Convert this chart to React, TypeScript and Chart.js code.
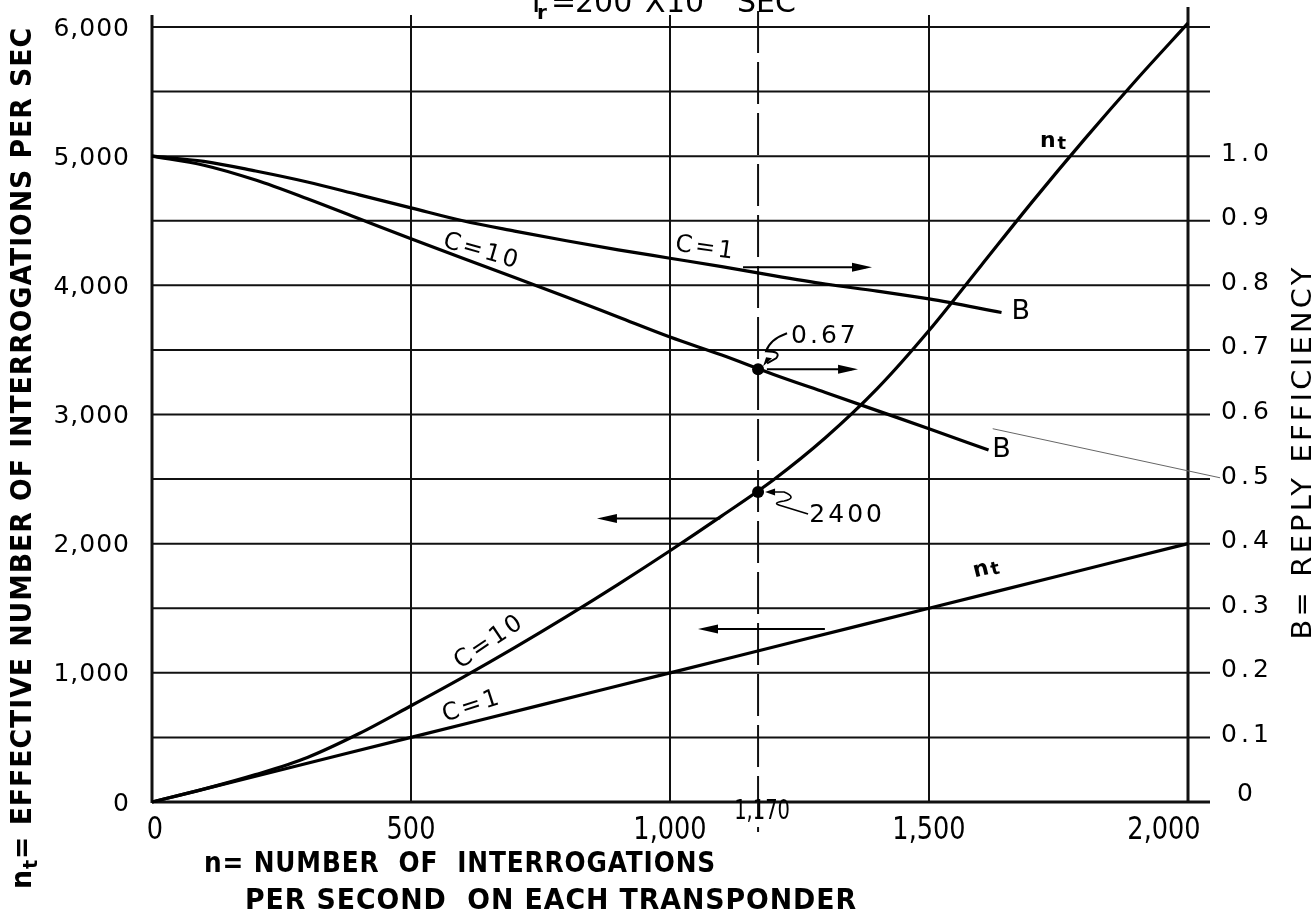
import React, { useEffect, useRef } from "react";
import { Chart, registerables } from "chart.js";
Chart.register(...registerables);

// ---------- axis ticks ----------
const xTicks = [0, 500, 1000, 1500, 2000];
const xTickLabels = ["0", "500", "1,000", "1,500", "2,000"];
const xGrid = [500, 1000, 1500, 2000];
const ntTicks = [0, 1000, 2000, 3000, 4000, 5000, 6000];
const ntTickLabels = ["0", "1,000", "2,000", "3,000", "4,000", "5,000", "6,000"];
const ntGrid = [0, 500, 1000, 1500, 2000, 2500, 3000, 3500, 4000, 4500, 5000, 5500, 6000];
const bTicks = [0, 0.1, 0.2, 0.3, 0.4, 0.5, 0.6, 0.7, 0.8, 0.9, 1.0];
const bTickLabels = ["0", "0.1", "0.2", "0.3", "0.4", "0.5", "0.6", "0.7", "0.8", "0.9", "1.0"];
const markN = 1170;
const markLabel = "1,170";

// ---------- series ----------
// n_t for C = 1
const ntC1N = [0, 250, 500, 750, 1000, 1250, 1500, 1750, 2000];
const ntC1 = [0, 250, 500, 750, 1000, 1250, 1500, 1750, 2000];
// n_t for C = 10
const ntC10N = [0, 100, 200, 300, 400, 500, 600, 700, 800, 900, 1000, 1100, 1200, 1300, 1400, 1500, 1600, 1700, 1800, 1900, 2000];
const ntC10 = [0, 100, 212, 345, 530, 745, 965, 1195, 1435, 1685, 1945, 2215, 2495, 2820, 3200, 3650, 4150, 4650, 5130, 5590, 6030];
// B for C = 1
const bC1N = [0, 100, 200, 300, 400, 500, 600, 700, 800, 900, 1000, 1100, 1200, 1300, 1400, 1500, 1640];
const bC1 = [1.0, 0.992, 0.977, 0.96, 0.94, 0.92, 0.9, 0.884, 0.869, 0.855, 0.842, 0.829, 0.815, 0.802, 0.791, 0.779, 0.758];
// B for C = 10
const bC10N = [0, 100, 200, 300, 400, 500, 600, 700, 800, 900, 1000, 1100, 1200, 1300, 1400, 1500, 1615];
const bC10 = [1.0, 0.986, 0.963, 0.934, 0.903, 0.872, 0.842, 0.812, 0.782, 0.751, 0.72, 0.692, 0.662, 0.634, 0.606, 0.578, 0.545];

// marked points
const markB = 0.67;
const markNt = 2400;

// arrows: [from n, to n, level, axis]
const arrowFrom = [1141, 1187, 1097, 1299];
const arrowTo = [1390, 1363, 859, 1054];
const arrowLevel = [0.828, 0.67, 2195, 1340];
const arrowAxis = ["y1", "y1", "y", "y"];

// faint stray line (B units)
const strayN = [1623, 2062];
const strayB = [0.578, 0.502];

// curve labels
const labelText = ["C=10", "C=1", "B", "B", "C=10", "C=1", "0.67", "2400"];
const labelN = [637, 1069, 1680, 1643, 652, 618, 1299, 1342];
const labelV = [4260, 4284, 3795, 2727, 1240, 740, 3605, 2219];
const labelRot = [16, 8, 0, 0, -34, -18, 0, 0];
const labelSize = [24, 24, 27, 27, 24, 24, 25, 25];
const ntLabelN = [1737, 1608];
const ntLabelV = [5116, 1803];
const ntLabelRot = [0, -14];

const SANS = '"DejaVu Sans", "Noto Sans", sans-serif';

type TOpts = { size: number; weight?: string; align?: CanvasTextAlign; base?: CanvasTextBaseline; rot?: number; sx?: number; ls?: number };
function txt(ctx: CanvasRenderingContext2D, s: string, x: number, y: number, o: TOpts) {
  ctx.save();
  ctx.translate(x, y);
  if (o.rot) ctx.rotate((o.rot * Math.PI) / 180);
  if (o.sx) ctx.scale(o.sx, 1);
  ctx.font = `${o.weight || "normal"} ${o.size}px ${SANS}`;
  (ctx as any).letterSpacing = (o.ls || 0) + "px";
  ctx.textAlign = o.align || "center";
  ctx.textBaseline = o.base || "middle";
  ctx.fillStyle = "#000";
  ctx.fillText(s, 0, 0);
  ctx.restore();
}

type Piece = { t: string; size: number; dy: number };
function rich(ctx: CanvasRenderingContext2D, pieces: Piece[], cx: number, baseY: number, width: number, rot: number, weight: string, ls: number) {
  ctx.save();
  (ctx as any).letterSpacing = ls + "px";
  const ws: number[] = [];
  let total = 0;
  for (const p of pieces) {
    ctx.font = `${weight} ${p.size}px ${SANS}`;
    const w = ctx.measureText(p.t).width;
    ws.push(w);
    total += w;
  }
  ctx.translate(cx, baseY);
  ctx.rotate((rot * Math.PI) / 180);
  ctx.scale(width / total, 1);
  ctx.textAlign = "left";
  ctx.textBaseline = "alphabetic";
  ctx.fillStyle = "#000";
  let x = -total / 2;
  pieces.forEach((p, i) => {
    ctx.font = `${weight} ${p.size}px ${SANS}`;
    ctx.fillText(p.t, x, p.dy);
    x += ws[i];
  });
  ctx.restore();
}

function line(ctx: CanvasRenderingContext2D, x1: number, y1: number, x2: number, y2: number, w: number) {
  ctx.lineWidth = w;
  ctx.beginPath();
  ctx.moveTo(x1, y1);
  ctx.lineTo(x2, y2);
  ctx.stroke();
}

const paperPlugin = {
  id: "paper",
  beforeDraw(chart: any) {
    const ctx = chart.ctx as CanvasRenderingContext2D;
    ctx.save();
    ctx.fillStyle = "#fff";
    ctx.fillRect(0, 0, chart.width, chart.height);
    ctx.restore();
  },
  beforeDatasetsDraw(chart: any) {
    const ctx = chart.ctx as CanvasRenderingContext2D;
    const xs = chart.scales.x, ys = chart.scales.y;
    const L = xs.getPixelForValue(0), R = xs.getPixelForValue(2000);
    const B0 = ys.getPixelForValue(0), T = ys.getPixelForValue(6000);
    ctx.save();
    ctx.strokeStyle = "#111";
    ctx.lineCap = "butt";
    for (const v of ntGrid) {
      const py = ys.getPixelForValue(v);
      line(ctx, L, py, R + 22, py, v === 0 ? 3 : 2);
    }
    for (const v of xGrid) {
      const px = xs.getPixelForValue(v);
      line(ctx, px, B0, px, v === 2000 ? T - 20 : T - 12, v === 2000 ? 3 : 2);
    }
    line(ctx, L, B0 + 1, L, T - 12, 3);
    const mx = xs.getPixelForValue(markN);
    ctx.setLineDash([42, 9]);
    line(ctx, mx, T - 16, mx, B0 + 30, 2);
    ctx.setLineDash([]);
    const bs = chart.scales.y1;
    ctx.strokeStyle = "#666";
    line(ctx, xs.getPixelForValue(strayN[0]), bs.getPixelForValue(strayB[0]), xs.getPixelForValue(strayN[1]), bs.getPixelForValue(strayB[1]), 1);
    ctx.restore();
  },
  afterDatasetsDraw(chart: any) {
    const ctx = chart.ctx as CanvasRenderingContext2D;
    const xs = chart.scales.x, ys = chart.scales.y, bs = chart.scales.y1;
    ctx.save();
    ctx.fillStyle = "#000";
    ctx.strokeStyle = "#000";

    ntTicks.forEach((v, i) => {
      txt(ctx, ntTickLabels[i], 130, ys.getPixelForValue(v) + 2, { size: 25, align: "right", ls: 1 });
    });
    bTicks.forEach((v, i) => {
      const py = bs.getPixelForValue(v) - (v === 0 ? 8 : 2);
      txt(ctx, bTickLabels[i], 1247, py, { size: 25, ls: 4 });
    });
    xTicks.forEach((v, i) => {
      let px = xs.getPixelForValue(v);
      if (v === 0) px += 3;
      if (v === 2000) px -= 24;
      txt(ctx, xTickLabels[i], px, 831, { size: 32, sx: 0.8 });
    });
    txt(ctx, markLabel, xs.getPixelForValue(markN) + 4, 812, { size: 26, sx: 0.75 });

    const mx = xs.getPixelForValue(markN);
    const pB = bs.getPixelForValue(markB);
    const pN = ys.getPixelForValue(markNt);
    for (const py of [pB, pN]) {
      ctx.beginPath();
      ctx.arc(mx, py, 6, 0, Math.PI * 2);
      ctx.fill();
    }

    arrowFrom.forEach((f, i) => {
      const sc = arrowAxis[i] === "y1" ? bs : ys;
      const py = sc.getPixelForValue(arrowLevel[i]);
      const x1 = xs.getPixelForValue(f), x2 = xs.getPixelForValue(arrowTo[i]);
      const d = Math.sign(x2 - x1);
      line(ctx, x1, py, x2 - d * 6, py, 2);
      ctx.beginPath();
      ctx.moveTo(x2, py);
      ctx.lineTo(x2 - d * 20, py - 4.5);
      ctx.lineTo(x2 - d * 20, py + 4.5);
      ctx.closePath();
      ctx.fill();
    });

    // leader for 0.67
    ctx.lineWidth = 2;
    ctx.beginPath();
    ctx.moveTo(mx + 29, pB - 36);
    ctx.quadraticCurveTo(mx + 12, pB - 30, mx + 8, pB - 18);
    ctx.quadraticCurveTo(mx + 24, pB - 18, mx + 18, pB - 11);
    ctx.lineTo(mx + 9, pB - 6);
    ctx.stroke();
    ctx.beginPath();
    ctx.moveTo(mx + 5, pB - 3);
    ctx.lineTo(mx + 14, pB - 11);
    ctx.lineTo(mx + 8, pB - 12);
    ctx.closePath();
    ctx.fill();
    // leader for 2400
    ctx.lineWidth = 1.6;
    ctx.beginPath();
    ctx.moveTo(mx + 12, pN);
    ctx.lineTo(mx + 26, pN);
    ctx.quadraticCurveTo(mx + 40, pN + 6, mx + 26, pN + 9);
    ctx.quadraticCurveTo(mx + 12, pN + 11, mx + 24, pN + 14);
    ctx.lineTo(mx + 50, pN + 22);
    ctx.stroke();
    ctx.beginPath();
    ctx.moveTo(mx + 7, pN);
    ctx.lineTo(mx + 17, pN - 3.5);
    ctx.lineTo(mx + 17, pN + 3.5);
    ctx.closePath();
    ctx.fill();

    labelText.forEach((t, i) => {
      txt(ctx, t, xs.getPixelForValue(labelN[i]), ys.getPixelForValue(labelV[i]), { size: labelSize[i], rot: labelRot[i], ls: 3 });
    });
    ntLabelN.forEach((n, i) => {
      const px = xs.getPixelForValue(n), py = ys.getPixelForValue(ntLabelV[i]);
      ctx.save();
      ctx.translate(px, py);
      ctx.rotate((ntLabelRot[i] * Math.PI) / 180);
      ctx.font = `bold 22px ${SANS}`;
      ctx.textAlign = "center";
      ctx.textBaseline = "middle";
      ctx.fillText("n", -4, 0);
      ctx.font = `bold 18px ${SANS}`;
      ctx.fillText("t", 10, 3);
      ctx.restore();
    });

    // top title (cut off by the top edge)
    ctx.font = `normal 30px ${SANS}`;
    ctx.textAlign = "left";
    ctx.textBaseline = "alphabetic";
    ctx.fillText("T", 527, 12);
    ctx.font = `bold 20px ${SANS}`;
    ctx.fillText("r", 537, 19);
    ctx.font = `normal 30px ${SANS}`;
    ctx.fillText("=", 551, 12);
    ctx.fillText("200", 575, 12);
    ctx.fillText("X", 645, 12);
    ctx.fillText("10", 666, 12);
    ctx.font = `normal 20px ${SANS}`;
    ctx.fillText("-6", 692, -8);
    ctx.font = `normal 30px ${SANS}`;
    ctx.fillText("SEC", 737, 12);

    rich(
      ctx,
      [
        { t: "n", size: 28, dy: 0 },
        { t: "t", size: 20, dy: 6 },
        { t: "= EFFECTIVE NUMBER OF INTERROGATIONS PER SEC", size: 28, dy: 0 },
      ],
      31, 458, 862, -90, "bold", 1
    );
    rich(ctx, [{ t: "B= REPLY EFFICIENCY", size: 27, dy: 0 }], 1311, 452, 375, -90, "normal", 3);
    rich(ctx, [{ t: "n= NUMBER  OF  INTERROGATIONS", size: 29, dy: 0 }], 460, 872, 512, 0, "bold", 1);
    rich(ctx, [{ t: "PER SECOND  ON EACH TRANSPONDER", size: 29, dy: 0 }], 551, 909, 612, 0, "bold", 1);

    ctx.restore();
  },
};

export default function App() {
  const ref = useRef<HTMLCanvasElement | null>(null);
  useEffect(() => {
    if (!ref.current) return;
    const pts = (xs: number[], ys: number[]) => xs.map((x, i) => ({ x, y: ys[i] }));
    const common = {
      showLine: true,
      borderColor: "#000",
      borderWidth: 3.2,
      pointRadius: 0,
      fill: false,
      clip: false as any,
      cubicInterpolationMode: "monotone" as const,
    };
    const chart = new Chart(ref.current, {
      type: "scatter",
      data: {
        datasets: [
          { ...common, label: "n_t C=1", data: pts(ntC1N, ntC1), yAxisID: "y" },
          { ...common, label: "n_t C=10", data: pts(ntC10N, ntC10), yAxisID: "y" },
          { ...common, label: "B C=1", data: pts(bC1N, bC1), yAxisID: "y1" },
          { ...common, label: "B C=10", data: pts(bC10N, bC10), yAxisID: "y1" },
        ],
      },
      options: {
        animation: false,
        responsive: false,
        maintainAspectRatio: false,
        layout: { padding: { left: 152, right: 128, top: 27, bottom: 116 } },
        plugins: { legend: { display: false }, tooltip: { enabled: false } },
        scales: {
          x: { type: "linear", min: 0, max: 2000, display: false },
          y: { type: "linear", min: 0, max: 6000, display: false },
          y1: { type: "linear", min: 0, max: 1.2, display: false, position: "right" },
        },
      },
      plugins: [paperPlugin],
    });
    return () => chart.destroy();
  }, []);
  return (
    <div style={{ position: "absolute", left: 0, top: 0, width: 1316, height: 918, background: "#fff" }}>
      <canvas ref={ref} width={1316} height={918} style={{ display: "block", width: 1316, height: 918 }} />
    </div>
  );
}
